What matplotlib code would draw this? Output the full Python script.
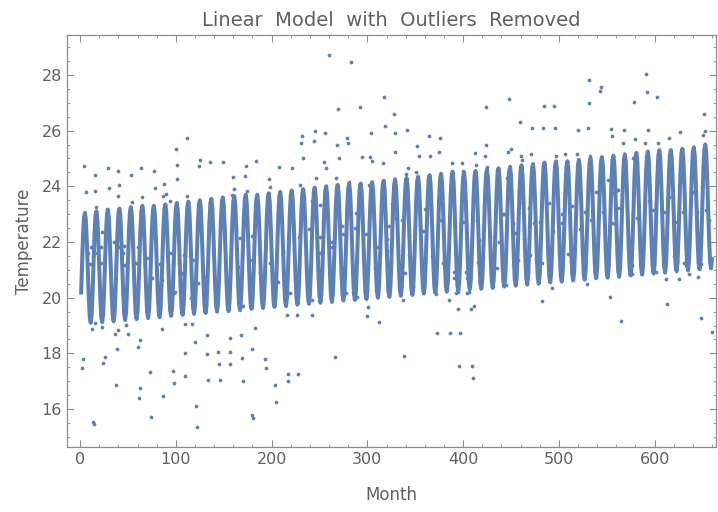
import numpy as np
import matplotlib
matplotlib.use('Agg')
import matplotlib.pyplot as plt
from matplotlib.ticker import MultipleLocator

# fitted curve, read per year (55 yearly cycles): peak / trough of each cycle
peaks = [23.05, 23.1, 23.15, 23.2, 23.25, 23.3, 23.3, 23.35, 23.4, 23.45,
         23.5, 23.55, 23.6, 23.65, 23.7, 23.7, 23.75, 23.8, 23.85, 23.9,
         23.95, 24.0, 24.05, 24.1, 24.1, 24.15, 24.2, 24.25, 24.3, 24.35,
         24.4, 24.45, 24.5, 24.5, 24.55, 24.6, 24.65, 24.7, 24.75, 24.8,
         24.85, 24.9, 24.9, 24.95, 25.0, 25.05, 25.1, 25.15, 25.2, 25.25,
         25.3, 25.3, 25.35, 25.4, 25.5]
troughs = [19.1, 19.12, 19.15, 19.2, 19.23, 19.27, 19.3, 19.35, 19.38, 19.42,
           19.45, 19.5, 19.52, 19.55, 19.6, 19.63, 19.67, 19.7, 19.75, 19.78,
           19.82, 19.85, 19.9, 19.92, 19.95, 20.0, 20.03, 20.07, 20.1, 20.15,
           20.18, 20.22, 20.25, 20.3, 20.32, 20.35, 20.4, 20.43, 20.47, 20.5,
           20.55, 20.58, 20.62, 20.65, 20.7, 20.72, 20.75, 20.8, 20.83, 20.87,
           20.9, 20.95, 20.98, 21.02, 21.05]
# shape of one cycle, month 1..12 of each year (-1 = trough, 1 = peak)
season = [-0.45, 0.1, 0.6, 0.92, 1.0, 0.85, 0.45, -0.05, -0.55, -0.9, -1.0, -0.85]

# data points visible in the chart (month, temperature)
months = [4, 16, 29, 40, 53, 64, 77, 100, 101, 101, 6, 16, 30, 41, 39, 54, 65, 78, 88, 87,
          90, 94, 17, 28, 23, 35, 11, 22, 46, 60, 51, 63,
          15, 12, 23, 36, 39, 48, 50, 38, 62, 60, 85, 3, 2, 26, 24, 37, 62, 61, 73, 97, 98, 86,
          13, 14, 74,
          8, 10, 18, 22, 42, 45, 47, 58, 70, 83, 94, 75, 85, 99, 103,
          112, 125, 124, 136, 149, 173, 184, 208, 160, 172, 161, 159, 174, 197, 198, 112, 167, 179,
          97, 108, 115, 118, 106, 129, 116, 123, 98, 165, 177, 188, 198, 207, 212, 170,
          110, 117, 120, 110, 132, 132, 144, 145, 157, 156, 156, 168, 169, 179, 183, 193, 194, 216,
          109, 133, 146, 170, 121, 122, 180, 181, 204, 205, 217, 217,
          260, 283, 317, 328, 269, 292, 318, 329, 304, 232, 231, 245, 244, 256, 279, 280, 268, 233,
          255, 257, 270, 294, 303, 305, 316, 329, 221, 246, 267, 230, 281, 302, 315, 242, 250,
          254, 239, 229, 263, 273, 275, 287, 299, 310, 323, 320, 288, 250,
          227, 242, 301, 300, 312, 266, 228,
          212, 219, 250, 263, 278, 289, 308, 320, 323, 242,
          341, 364, 376, 352, 354, 365, 375, 388, 399, 412, 413, 423, 424, 424, 448, 447, 342, 340,
          351, 363, 388, 400, 425, 435,
          326, 330, 336, 344, 360, 355, 358, 366, 377, 400, 415, 417, 428, 438, 443,
          337, 338, 372, 385, 393, 395, 404, 406, 395, 408, 411, 373, 386, 397, 396, 409, 410, 445,
          339, 344, 348, 367, 379, 390, 391, 403, 404, 416, 435, 323,
          450, 459, 472, 483, 484, 495, 496, 520, 530, 531, 532, 543, 544, 555, 556, 460, 461, 471,
          497, 506, 519, 533, 446,
          442, 452, 454, 463, 464, 469, 474, 480, 490, 494, 503, 503, 514, 522, 527, 534, 539, 543,
          546, 556, 562,
          482, 493, 529, 553, 457, 470, 468, 476, 482, 510, 524, 550,
          591, 592, 579, 603, 652, 568, 593, 627, 653, 651, 567, 580, 590, 604, 615, 577,
          551, 556, 561, 562, 559, 582, 584, 594, 598, 610, 615, 628, 630, 623, 640, 644, 654, 657,
          650,
          565, 576, 601, 612, 625, 613, 636, 645, 648, 649, 660,
          551, 576, 597, 620, 623, 631, 633, 645]
temps = [24.74, 24.41, 24.64, 24.56, 24.42, 24.67, 24.56, 25.33, 24.78, 24.28, 23.79, 23.82,
         23.94, 24.03, 23.66, 23.43, 23.62, 23.94, 24.09, 23.66,
         23.72, 23.47, 23.25, 23.2, 22.37, 22.0, 21.82, 21.82, 21.87, 21.81, 22.32, 22.35,
         19.1, 18.88, 18.96, 18.7, 18.84, 19.02, 18.7, 18.15, 18.47, 18.22, 18.88, 17.79, 17.47,
         17.86, 17.67, 16.87, 16.77, 16.4, 17.35, 17.38, 16.95, 16.48,
         15.55, 15.47, 15.71,
         21.6, 21.21, 21.6, 21.26, 21.83, 21.6, 21.18, 21.24, 21.42, 21.21, 21.6, 20.7, 20.64,
         20.22, 21.24,
         25.73, 24.96, 24.74, 24.89, 24.89, 24.74, 24.92, 24.68, 24.35, 24.38, 23.9, 23.69, 23.83,
         24.27, 23.98, 23.66, 22.14, 22.23,
         21.21, 21.54, 21.5, 21.36, 20.88, 20.74, 19.98, 20.52, 20.18, 21.12, 21.36, 20.88, 21.24,
         20.58, 21.6, 19.69,
         19.06, 19.06, 18.4, 18.03, 18.66, 17.97, 18.06, 17.63, 18.55, 18.06, 17.63, 18.66, 17.83,
         18.15, 18.92, 17.79, 17.46, 19.38,
         17.2, 17.05, 17.05, 17.01, 16.11, 15.37, 15.79, 15.67, 16.87, 16.25, 17.27, 17.01,
         28.72, 28.46, 27.19, 26.59, 26.78, 26.85, 26.16, 25.93, 25.93, 25.79, 25.57, 25.98, 25.64,
         25.9, 25.73, 25.57, 25.5, 25.0,
         24.88, 24.67, 25.0, 25.07, 25.07, 24.92, 24.85, 25.25, 24.67, 24.31, 24.31, 24.03, 24.16,
         24.03, 23.79, 23.47, 23.33,
         22.73, 22.47, 22.17, 21.99, 22.58, 22.29, 22.52, 22.28, 21.81, 22.58, 22.1, 23.03, 22.19,
         19.38, 19.38, 19.68, 19.35, 19.13, 17.86, 17.27,
         21.66, 20.18, 21.6, 21.83, 20.16, 20.04, 21.06, 21.66, 20.22, 19.92,
         26.01, 25.79, 25.73, 25.43, 25.1, 25.1, 25.25, 24.85, 24.85, 25.21, 24.77, 25.1, 25.5,
         26.85, 27.14, 25.25, 24.67, 24.45,
         24.53, 24.27, 24.56, 24.56, 24.7, 24.59,
         23.36, 22.88, 22.79, 22.23, 23.18, 22.61, 22.41, 22.73, 22.79, 22.73, 22.79, 22.08, 22.19,
         22.0, 23.01,
         19.9, 17.92, 20.12, 19.92, 20.16, 20.2, 20.16, 20.2, 19.6, 19.6, 19.71, 18.73, 18.73,
         18.73, 17.56, 17.56, 17.1, 20.45,
         20.88, 21.54, 20.4, 21.48, 21.24, 20.94, 20.7, 20.94, 20.7, 21.3, 21.06, 20.34,
         25.33, 26.3, 26.09, 26.09, 26.89, 26.89, 26.09, 26.01, 26.09, 27.8, 26.99, 27.43, 27.58,
         26.05, 25.79, 25.1, 24.95, 25.17,
         25.1, 25.17, 25.17, 25.1, 24.31,
         23.0, 22.7, 22.34, 23.39, 22.1, 23.21, 22.7, 22.73, 23.39, 22.4, 23.01, 22.7, 23.3, 22.46,
         23.06, 22.79, 23.79, 24.17,
         23.06, 22.67, 23.87,
         19.87, 20.36, 20.48, 20.04, 21.36, 21.54, 20.94, 21.36, 21.24, 21.57, 21.83, 21.42,
         28.02, 27.4, 27.01, 27.19, 26.6, 26.01, 26.01, 25.94, 25.99, 25.83, 25.57, 25.69, 25.57,
         25.57, 25.73, 25.01,
         24.23, 23.77, 23.85, 23.21, 22.64, 22.88, 22.68, 23.48, 23.15, 23.09, 23.63, 24.47, 23.06,
         22.73, 23.81, 23.09, 23.15, 22.79,
         23.99,
         19.17, 20.84, 20.92, 20.66, 20.66, 19.78, 20.84, 20.74, 21.2, 19.27, 18.77,
         21.12, 21.18, 21.38, 21.5, 21.33, 21.26, 21.18, 21.83]

blue = '#5e81b5'
gray = '#8c8c8c'
txt = '#606060'

# build curve month by month from the yearly peak/trough readings
curve_m = []
curve_t = []
for y in range(len(peaks)):
    mid = (peaks[y] + troughs[y]) / 2
    half = (peaks[y] - troughs[y]) / 2
    for k in range(12):
        curve_m.append(y * 12 + k + 1)
        curve_t.append(mid + half * season[k])

fig = plt.figure(figsize=(7.18, 5.12), dpi=100)
ax = fig.add_axes([0.093, 0.127, 0.904, 0.805])

ax.plot(curve_m, curve_t, color=blue, linewidth=2.9, zorder=2)
ax.plot(months, temps, 'o', color=blue, markersize=2.7, markeredgewidth=0, zorder=3)

ax.set_xlim(-14, 664)
ax.set_ylim(14.64, 29.44)
ax.xaxis.set_major_locator(MultipleLocator(100))
ax.xaxis.set_minor_locator(MultipleLocator(20))
ax.yaxis.set_major_locator(MultipleLocator(2))
ax.yaxis.set_minor_locator(MultipleLocator(0.5))
ax.tick_params(which='both', direction='in', top=True, right=True, color=gray,
               labelcolor=txt, labelsize=11.5)
ax.tick_params(which='major', length=5, width=0.8)
ax.tick_params(which='minor', length=2.5, width=0.6)
for s in ax.spines.values():
    s.set_color(gray)
    s.set_linewidth(0.9)

ax.set_xlabel('Month', color=txt, fontsize=12, labelpad=14)
ax.set_ylabel('Temperature', color=txt, fontsize=12, labelpad=6)
ax.set_title('Linear  Model  with  Outliers  Removed', color=txt, fontsize=14, pad=6)

fig.savefig('out.png', dpi=100)
